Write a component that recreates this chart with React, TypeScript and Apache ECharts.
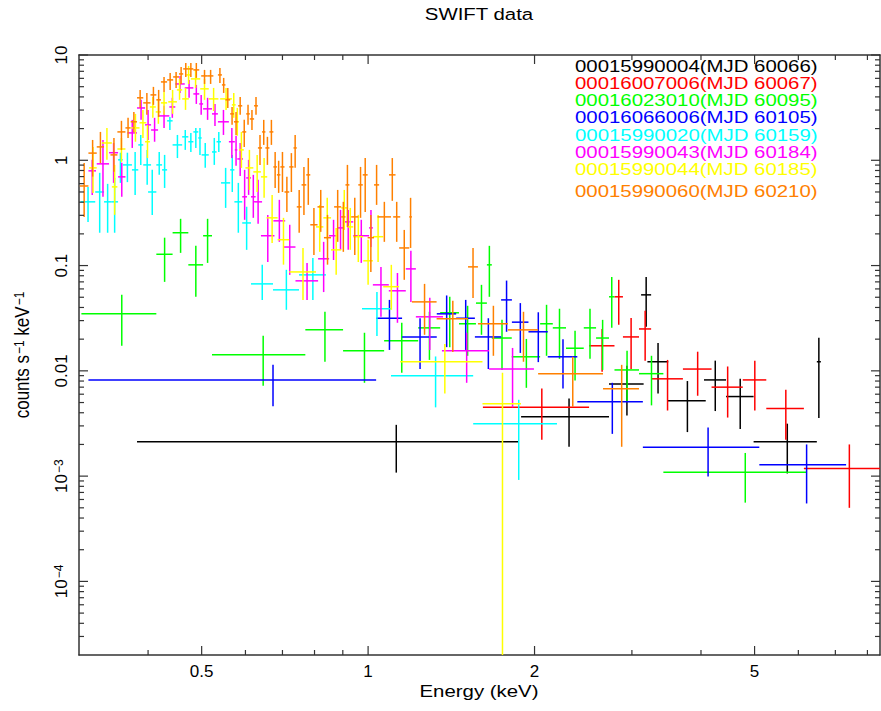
import React, { useEffect, useRef } from 'react';
import * as echarts from 'echarts';

// ---- axis ranges ----
const X_MIN = 0.3;
const X_MAX = 8.43;
const Y_MIN = 2e-5;
const Y_MAX = 10;

// ---- tick values / labels ----
const xMajorTicks = [0.5, 1, 2, 5];
const xMajorLabels = ['0.5', '1', '2', '5'];
const xMinorTicks = [0.4, 0.6, 0.7, 0.8, 0.9, 3, 4, 6, 7, 8];
const yMajorTicks = [1e-4, 1e-3, 0.01, 0.1, 1, 10];
const yMajorLabels = ['10{s|\u22124}', '10{s|\u22123}', '0.01', '0.1', '1', '10'];
const yMinorTicks = [
  3e-5, 4e-5, 5e-5, 6e-5, 7e-5, 8e-5, 9e-5,
  2e-4, 3e-4, 4e-4, 5e-4, 6e-4, 7e-4, 8e-4, 9e-4,
  0.002, 0.003, 0.004, 0.005, 0.006, 0.007, 0.008, 0.009,
  0.02, 0.03, 0.04, 0.05, 0.06, 0.07, 0.08, 0.09,
  0.2, 0.3, 0.4, 0.5, 0.6, 0.7, 0.8, 0.9,
  2, 3, 4, 5, 6, 7, 8, 9,
];

// ---- legend ----
const obsLabels = [
  '00015990004(MJD 60066)',
  '00016007006(MJD 60067)',
  '00016023010(MJD 60095)',
  '00016066006(MJD 60105)',
  '00015990020(MJD 60159)',
  '00015990043(MJD 60184)',
  '00015990044(MJD 60185)',
  '00015990060(MJD 60210)',
];
const obsColors = ['#000000', '#ff0000', '#00ff00', '#0000ff', '#00ffff', '#ff00ff', '#ffff00', '#ff8000'];

// ---- data: [eLow, eHigh, rate, rateLow, rateHigh] ----
const obs60066 = [
  [0.382, 1.867, 0.00212, 0.00108, 0.00307],
  [1.891, 2.727, 0.00366, 0.0019, 0.00545],
  [2.727, 3.15, 0.0075, 0.00376, 0.0112],
  [3.117, 3.25, 0.0527, 0.0263, 0.078],
  [3.2, 3.49, 0.0122, 0.0061, 0.0184],
  [3.48, 4.08, 0.0052, 0.00262, 0.008],
  [4.05, 4.44, 0.0082, 0.00415, 0.0125],
  [4.44, 4.98, 0.0057, 0.0028, 0.0084],
  [4.98, 6.48, 0.00212, 0.00106, 0.00315],
  [6.48, 6.59, 0.0122, 0.00356, 0.0206],
];
const obs60067 = [
  [1.613, 2.51, 0.0045, 0.00221, 0.0068],
  [2.51, 2.79, 0.0173, 0.0098, 0.025],
  [2.79, 2.89, 0.0505, 0.0274, 0.0732],
  [2.89, 3.09, 0.021, 0.0104, 0.0318],
  [3.09, 3.25, 0.025, 0.0125, 0.0373],
  [3.25, 3.71, 0.0084, 0.0042, 0.0127],
  [3.71, 4.18, 0.0104, 0.0058, 0.0152],
  [4.18, 4.76, 0.007, 0.0036, 0.011],
  [4.76, 5.25, 0.0082, 0.0042, 0.0125],
  [5.25, 6.14, 0.0044, 0.00221, 0.0066],
  [6.14, 8.7, 0.00118, 0.0005, 0.002],
];
const obs60095 = [
  [0.303, 0.414, 0.0348, 0.0173, 0.0527],
  [0.414, 0.443, 0.128, 0.07, 0.184],
  [0.443, 0.473, 0.205, 0.132, 0.278],
  [0.473, 0.503, 0.1016, 0.0505, 0.154],
  [0.503, 0.522, 0.192, 0.106, 0.278],
  [0.522, 0.77, 0.0142, 0.0072, 0.0215],
  [0.77, 0.901, 0.0245, 0.0122, 0.0364],
  [0.901, 1.069, 0.0155, 0.0077, 0.023],
  [1.069, 1.232, 0.0193, 0.0096, 0.0286],
  [1.232, 1.35, 0.0256, 0.0127, 0.0364],
  [1.35, 1.46, 0.0356, 0.0168, 0.0505],
  [1.46, 1.567, 0.028, 0.0139, 0.0415],
  [1.567, 1.64, 0.044, 0.022, 0.0656],
  [1.64, 1.674, 0.1016, 0.0505, 0.154],
  [1.674, 1.819, 0.0205, 0.0102, 0.0305],
  [1.819, 2.047, 0.0136, 0.0069, 0.0201],
  [2.047, 2.158, 0.028, 0.0139, 0.0424],
  [2.158, 2.28, 0.0256, 0.013, 0.0389],
  [2.28, 2.455, 0.0164, 0.0081, 0.024],
  [2.455, 2.584, 0.0256, 0.013, 0.0389],
  [2.584, 2.727, 0.0205, 0.0102, 0.0305],
  [2.727, 2.79, 0.0505, 0.0256, 0.078],
  [2.79, 3.09, 0.0102, 0.0051, 0.0155],
  [3.09, 3.42, 0.0094, 0.0047, 0.0139],
  [3.42, 6.2, 0.00109, 0.00056, 0.00166],
];
const obs60105 = [
  [0.312, 1.034, 0.0082, 0.0046, 0.0114],
  [1.034, 1.152, 0.0316, 0.0158, 0.0472],
  [1.152, 1.331, 0.021, 0.0104, 0.0316],
  [1.331, 1.443, 0.0348, 0.0168, 0.052],
  [1.443, 1.56, 0.0316, 0.0158, 0.0472],
  [1.56, 1.74, 0.021, 0.0104, 0.0316],
  [1.74, 1.82, 0.0472, 0.0235, 0.072],
  [1.82, 1.95, 0.029, 0.0148, 0.044],
  [1.95, 2.113, 0.0235, 0.0121, 0.036],
  [2.113, 2.39, 0.0136, 0.0068, 0.02],
  [2.39, 3.14, 0.0051, 0.00252, 0.0077],
  [3.14, 5.1, 0.00188, 0.00099, 0.0029],
  [5.1, 7.32, 0.00128, 0.00055, 0.002],
];
const obs60159 = [
  [0.302, 0.321, 0.403, 0.26, 0.559],
  [0.321, 0.333, 0.5, 0.205, 0.76],
  [0.333, 0.343, 0.403, 0.205, 0.597],
  [0.343, 0.353, 0.403, 0.205, 0.68],
  [0.353, 0.36, 1.01, 0.61, 1.18],
  [0.36, 0.374, 0.904, 0.62, 1.18],
  [0.374, 0.384, 0.811, 0.469, 1.2],
  [0.384, 0.392, 1.4, 0.904, 1.74],
  [0.392, 0.405, 0.904, 0.584, 1.255],
  [0.4, 0.414, 0.5, 0.303, 0.811],
  [0.414, 0.424, 0.904, 0.727, 1.2],
  [0.424, 0.433, 0.811, 0.546, 1.125],
  [0.433, 0.443, 2.37, 1.94, 2.58],
  [0.443, 0.461, 1.4, 1.05, 1.74],
  [0.461, 0.473, 1.67, 1.255, 1.94],
  [0.473, 0.483, 1.5, 1.2, 1.82],
  [0.483, 0.493, 1.86, 1.31, 2.03],
  [0.493, 0.5, 1.63, 1.125, 2.03],
  [0.5, 0.515, 1.125, 0.847, 1.46],
  [0.522, 0.532, 1.2, 0.904, 1.63],
  [0.532, 0.542, 1.5, 1.2, 1.86],
  [0.542, 0.563, 0.61, 0.353, 0.847],
  [0.563, 0.573, 0.811, 0.5, 1.125],
  [0.573, 0.592, 0.403, 0.205, 0.61],
  [0.592, 0.614, 0.254, 0.141, 0.362],
  [0.614, 0.673, 0.067, 0.0472, 0.1016],
  [0.673, 0.75, 0.0588, 0.038, 0.0911],
  [0.75, 0.839, 0.0816, 0.0472, 0.118],
  [0.975, 1.1, 0.0389, 0.0214, 0.056],
  [1.1, 1.549, 0.009, 0.0045, 0.0137],
  [1.549, 2.196, 0.00315, 0.00092, 0.00531],
];
const obs60184 = [
  [0.312, 0.322, 0.794, 0.469, 1.01],
  [0.323, 0.34, 0.925, 0.45, 1.56],
  [0.34, 0.353, 1.18, 0.61, 1.46],
  [0.353, 0.364, 0.696, 0.45, 0.945],
  [0.367, 0.382, 1.82, 1.31, 2.42],
  [0.382, 0.395, 3.14, 2.42, 3.75],
  [0.395, 0.405, 2.17, 1.56, 3.01],
  [0.405, 0.417, 1.94, 1.5, 2.53],
  [0.418, 0.437, 2.64, 2.03, 3.29],
  [0.437, 0.448, 3.21, 2.53, 3.92],
  [0.448, 0.466, 5.31, 4.36, 6.33],
  [0.466, 0.483, 4.87, 3.92, 5.8],
  [0.483, 0.495, 4.27, 3.43, 5.2],
  [0.495, 0.503, 3.43, 2.7, 4.18],
  [0.503, 0.522, 3.08, 2.42, 3.92],
  [0.522, 0.535, 2.76, 2.12, 3.43],
  [0.535, 0.56, 2.32, 1.74, 3.01],
  [0.56, 0.574, 1.5, 1.05, 2.03],
  [0.574, 0.58, 1.255, 0.885, 1.71],
  [0.58, 0.594, 1.03, 0.71, 1.46],
  [0.592, 0.604, 0.45, 0.272, 0.811],
  [0.602, 0.614, 0.68, 0.469, 1.01],
  [0.614, 0.626, 0.45, 0.284, 0.727],
  [0.622, 0.643, 0.403, 0.249, 0.652],
  [0.64, 0.677, 0.192, 0.108, 0.303],
  [0.674, 0.708, 0.266, 0.168, 0.421],
  [0.704, 0.739, 0.15, 0.0816, 0.244],
  [0.739, 0.812, 0.0716, 0.0472, 0.106],
  [0.812, 0.85, 0.116, 0.056, 0.168],
  [0.85, 0.882, 0.192, 0.113, 0.272],
  [0.882, 0.901, 0.228, 0.141, 0.338],
  [0.901, 0.94, 0.26, 0.141, 0.338],
  [0.94, 1.004, 0.192, 0.106, 0.272],
  [1.004, 1.02, 0.228, 0.15, 0.338],
  [1.02, 1.09, 0.0656, 0.0326, 0.097],
  [1.09, 1.17, 0.0576, 0.0286, 0.085],
  [1.17, 1.22, 0.093, 0.045, 0.138],
  [1.22, 1.366, 0.0326, 0.0158, 0.0494],
  [1.36, 1.655, 0.0155, 0.0077, 0.023],
  [1.655, 1.995, 0.0104, 0.0045, 0.0165],
];
const obs60185 = [
  [0.313, 0.323, 0.847, 0.49, 1.34],
  [0.33, 0.344, 1.46, 1.01, 2.03],
  [0.344, 0.352, 0.559, 0.303, 0.904],
  [0.352, 0.364, 1.28, 0.966, 1.63],
  [0.373, 0.386, 2.03, 1.5, 2.76],
  [0.386, 0.397, 2.27, 1.63, 3.01],
  [0.395, 0.403, 1.5, 1.05, 2.17],
  [0.403, 0.413, 3.21, 2.53, 4.0],
  [0.413, 0.422, 2.88, 2.22, 3.75],
  [0.422, 0.433, 3.51, 2.7, 4.46],
  [0.435, 0.451, 3.59, 2.76, 4.66],
  [0.451, 0.461, 4.66, 3.75, 5.93],
  [0.461, 0.474, 3.83, 3.01, 4.87],
  [0.469, 0.478, 6.47, 5.31, 7.87],
  [0.478, 0.497, 5.93, 4.87, 7.22],
  [0.497, 0.515, 4.77, 3.75, 5.93],
  [0.515, 0.536, 3.83, 2.94, 4.87],
  [0.54, 0.567, 3.83, 3.01, 4.87],
  [0.567, 0.576, 3.36, 2.53, 4.36],
  [0.576, 0.584, 2.32, 1.71, 3.14],
  [0.584, 0.596, 1.255, 0.847, 1.86],
  [0.6, 0.62, 0.847, 0.523, 1.255],
  [0.62, 0.64, 0.776, 0.5, 1.125],
  [0.64, 0.657, 0.696, 0.44, 1.05],
  [0.655, 0.686, 0.284, 0.164, 0.469],
  [0.686, 0.72, 0.176, 0.102, 0.284],
  [0.72, 0.805, 0.087, 0.0472, 0.147],
  [0.805, 0.83, 0.233, 0.135, 0.377],
  [0.83, 0.857, 0.284, 0.176, 0.44],
  [0.857, 0.894, 0.141, 0.0816, 0.228],
  [0.894, 0.917, 0.353, 0.218, 0.523],
  [0.917, 0.94, 0.233, 0.141, 0.353],
  [0.94, 0.98, 0.188, 0.108, 0.303],
  [0.98, 1.02, 0.111, 0.0656, 0.176],
  [1.02, 1.065, 0.188, 0.108, 0.303],
  [1.065, 1.138, 0.063, 0.038, 0.1016],
  [1.143, 1.61, 0.0122, 0.0061, 0.018],
  [1.61, 1.89, 0.00487, 1e-7, 0.0096],
];
const obs60210 = [
  [0.301, 0.312, 0.57, 0.29, 0.94],
  [0.312, 0.323, 1.17, 0.7, 1.56],
  [0.323, 0.333, 1.34, 0.94, 1.86],
  [0.342, 0.352, 1.125, 0.78, 1.63],
  [0.352, 0.364, 1.86, 1.255, 2.37],
  [0.364, 0.372, 2.03, 1.63, 2.53],
  [0.372, 0.382, 2.32, 1.85, 2.88],
  [0.382, 0.392, 3.92, 3.14, 4.66],
  [0.392, 0.404, 3.51, 2.7, 4.36],
  [0.404, 0.414, 4.18, 3.36, 4.98],
  [0.414, 0.422, 3.75, 2.58, 4.66],
  [0.422, 0.433, 5.55, 4.46, 6.19],
  [0.433, 0.444, 5.8, 4.66, 6.75],
  [0.444, 0.455, 6.19, 4.87, 6.91],
  [0.455, 0.463, 6.61, 5.31, 7.7],
  [0.463, 0.473, 7.38, 6.19, 8.4],
  [0.473, 0.483, 7.38, 6.19, 8.4],
  [0.483, 0.495, 7.22, 6.06, 8.4],
  [0.499, 0.513, 6.33, 5.31, 7.22],
  [0.513, 0.525, 6.33, 5.31, 7.22],
  [0.535, 0.544, 6.47, 5.43, 7.54],
  [0.544, 0.552, 5.2, 4.36, 6.06],
  [0.552, 0.563, 3.75, 3.14, 4.87],
  [0.563, 0.572, 2.76, 2.17, 3.21],
  [0.572, 0.582, 2.32, 1.74, 2.88],
  [0.582, 0.592, 3.29, 2.7, 4.0],
  [0.592, 0.602, 1.86, 1.34, 2.42],
  [0.602, 0.611, 2.76, 2.17, 3.36],
  [0.611, 0.622, 2.47, 1.94, 3.01],
  [0.622, 0.632, 3.29, 2.7, 4.0],
  [0.632, 0.643, 1.31, 0.904, 1.74],
  [0.643, 0.652, 1.86, 1.4, 2.42],
  [0.652, 0.663, 1.31, 0.904, 1.67],
  [0.663, 0.674, 1.86, 1.4, 2.42],
  [0.674, 0.684, 0.865, 0.546, 1.2],
  [0.684, 0.694, 0.727, 0.49, 0.99],
  [0.694, 0.706, 0.865, 0.5, 1.2],
  [0.706, 0.72, 0.5, 0.323, 0.696],
  [0.72, 0.733, 0.865, 0.5, 1.17],
  [0.733, 0.743, 1.31, 0.847, 1.74],
  [0.743, 0.758, 0.361, 0.205, 0.523],
  [0.758, 0.773, 0.584, 0.303, 0.865],
  [0.773, 0.786, 0.727, 0.377, 1.05],
  [0.786, 0.81, 0.244, 0.126, 0.353],
  [0.81, 0.832, 0.361, 0.209, 0.523],
  [0.832, 0.857, 0.184, 0.102, 0.303],
  [0.868, 0.894, 0.361, 0.168, 0.523],
  [0.894, 0.91, 0.29, 0.135, 0.403],
  [0.91, 0.925, 0.584, 0.232, 0.904],
  [0.932, 0.96, 0.29, 0.126, 0.44],
  [0.96, 0.978, 0.584, 0.284, 0.865],
  [0.978, 0.998, 0.727, 0.323, 1.05],
  [0.998, 1.025, 0.184, 0.087, 0.303],
  [1.025, 1.047, 0.584, 0.377, 0.904],
  [1.04, 1.1, 0.29, 0.168, 0.403],
  [1.091, 1.121, 0.727, 0.412, 1.05],
  [1.11, 1.143, 0.29, 0.168, 0.403],
  [1.138, 1.187, 0.147, 0.0732, 0.218],
  [1.187, 1.2, 0.29, 0.147, 0.44],
  [1.2, 1.33, 0.0452, 0.022, 0.067],
  [1.33, 1.516, 0.0312, 0.0151, 0.0462],
  [1.516, 1.58, 0.0972, 0.0493, 0.147],
  [1.58, 1.79, 0.028, 0.0139, 0.0415],
  [1.79, 2.03, 0.0245, 0.0122, 0.0364],
  [2.03, 2.66, 0.0094, 0.00456, 0.0136],
  [2.66, 3.09, 0.00676, 0.0019, 0.0114],
];

const allObs = [obs60066, obs60067, obs60095, obs60105, obs60159, obs60184, obs60185, obs60210];

const FONT = '"Liberation Sans", Arial, Helvetica, sans-serif';
const LINE_W = 1.5;
const STRETCH = 1.2;
const FRAME = '#333333';

function errorSeries(name: string, color: string, rows: number[][]) {
  return {
    type: 'custom',
    name,
    clip: true,
    silent: true,
    xAxisIndex: 0,
    yAxisIndex: 0,
    data: rows.map((r) => [(r[0] + r[1]) / 2, r[2], r[0], r[1], r[3], r[4]]),
    encode: { x: 0, y: 1 },
    renderItem: (_p: any, api: any) => {
      const xc = api.value(0);
      const yc = api.value(1);
      const a = api.coord([api.value(2), yc]);
      const b = api.coord([api.value(3), yc]);
      const c = api.coord([xc, api.value(5)]);
      const d = api.coord([xc, api.value(4)]);
      const st = { stroke: color, lineWidth: LINE_W, fill: 'none' };
      return {
        type: 'group',
        children: [
          { type: 'line', shape: { x1: a[0], y1: a[1], x2: b[0], y2: b[1] }, style: st },
          { type: 'line', shape: { x1: c[0], y1: c[1], x2: d[0], y2: d[1] }, style: st },
        ],
      };
    },
  };
}

const tickStyle = { stroke: FRAME, lineWidth: 1.2 };

function xTickSeries() {
  const data = [
    ...xMajorTicks.map((v) => [v, Y_MIN, 1]),
    ...xMinorTicks.map((v) => [v, Y_MIN, 0]),
  ];
  return {
    type: 'custom',
    silent: true,
    clip: false,
    z: 10,
    xAxisIndex: 0,
    yAxisIndex: 0,
    data,
    encode: { x: 0, y: 1 },
    renderItem: (_p: any, api: any) => {
      const v = api.value(0);
      const len = api.value(2) === 1 ? 9 : 5;
      const b = api.coord([v, Y_MIN]);
      const t = api.coord([v, Y_MAX]);
      return {
        type: 'group',
        children: [
          { type: 'line', shape: { x1: b[0], y1: b[1], x2: b[0], y2: b[1] - len }, style: tickStyle },
          { type: 'line', shape: { x1: t[0], y1: t[1], x2: t[0], y2: t[1] + len }, style: tickStyle },
        ],
      };
    },
  };
}

function yTickSeries() {
  const data = [
    ...yMajorTicks.map((v) => [X_MIN, v, 1]),
    ...yMinorTicks.map((v) => [X_MIN, v, 0]),
  ];
  return {
    type: 'custom',
    silent: true,
    clip: false,
    z: 10,
    xAxisIndex: 0,
    yAxisIndex: 0,
    data,
    encode: { x: 0, y: 1 },
    renderItem: (_p: any, api: any) => {
      const v = api.value(1);
      const len = api.value(2) === 1 ? 9 : 5;
      const l = api.coord([X_MIN, v]);
      const r = api.coord([X_MAX, v]);
      return {
        type: 'group',
        children: [
          { type: 'line', shape: { x1: l[0], y1: l[1], x2: l[0] + len, y2: l[1] }, style: tickStyle },
          { type: 'line', shape: { x1: r[0], y1: r[1], x2: r[0] - len, y2: r[1] }, style: tickStyle },
        ],
      };
    },
  };
}

function xLabelSeries() {
  return {
    type: 'custom',
    silent: true,
    clip: false,
    z: 10,
    xAxisIndex: 0,
    yAxisIndex: 0,
    data: xMajorTicks.map((v) => [v, Y_MIN]),
    encode: { x: 0, y: 1 },
    renderItem: (p: any, api: any) => {
      const pt = api.coord([api.value(0), Y_MIN]);
      return {
        type: 'text',
        x: pt[0],
        y: pt[1] + 8,
        style: {
          text: xMajorLabels[p.dataIndex],
          fill: '#000',
          fontSize: 17,
          fontFamily: FONT,
          align: 'center',
          verticalAlign: 'top',
          textAlign: 'center',
          textVerticalAlign: 'top',
        },
      };
    },
  };
}

const supRich = { s: { fontSize: 12, fontFamily: FONT, fill: '#000', verticalAlign: 'top', padding: [0, 0, 0, 1] } };

function yLabelSeries() {
  return {
    type: 'custom',
    silent: true,
    clip: false,
    z: 10,
    xAxisIndex: 0,
    yAxisIndex: 0,
    data: yMajorTicks.map((v) => [X_MIN, v]),
    encode: { x: 0, y: 1 },
    renderItem: (p: any, api: any) => {
      const pt = api.coord([X_MIN, api.value(1)]);
      return {
        type: 'text',
        x: pt[0] - 9,
        y: pt[1],
        rotation: Math.PI / 2,
        style: {
          text: yMajorLabels[p.dataIndex],
          rich: supRich,
          fill: '#000',
          fontSize: 17,
          fontFamily: FONT,
          align: 'center',
          verticalAlign: 'bottom',
          textAlign: 'center',
          textVerticalAlign: 'bottom',
        },
      };
    },
  };
}

const axisBase = {
  type: 'log',
  logBase: 10,
  axisTick: { show: false },
  axisLabel: { show: false },
  splitLine: { show: false },
  minorTick: { show: false },
  minorSplitLine: { show: false },
};
const lineStyle = { color: FRAME, width: 1.5 };

function textEl(text: string, x: number, y: number, color: string, extra: any = {}) {
  return {
    type: 'text',
    x,
    y,
    scaleX: extra.scaleX ?? STRETCH,
    scaleY: extra.scaleY ?? 1,
    rotation: extra.rotation ?? 0,
    z: 100,
    style: {
      text,
      rich: extra.rich,
      fill: color,
      fontSize: extra.fontSize ?? 17,
      fontFamily: FONT,
      align: extra.align ?? 'left',
      verticalAlign: 'middle',
      textAlign: extra.align ?? 'left',
      textVerticalAlign: 'middle',
    },
  };
}

const legendYs = [66.5, 83, 100, 117.5, 135, 152.5, 169, 191];

export default function App() {
  const ref = useRef<HTMLDivElement>(null);
  useEffect(() => {
    if (!ref.current) return;
    const chart = echarts.init(ref.current, undefined, { renderer: 'svg' });
    const option: any = {
      animation: false,
      backgroundColor: '#ffffff',
      grid: { left: 79, top: 55, width: 801, height: 600, containLabel: false, outerBoundsMode: 'none' },
      xAxis: [
        { ...axisBase, min: X_MIN, max: X_MAX, position: 'bottom', axisLine: { show: true, onZero: false, lineStyle } },
        { ...axisBase, min: X_MIN, max: X_MAX, position: 'top', axisLine: { show: true, onZero: false, lineStyle } },
      ],
      yAxis: [
        { ...axisBase, min: Y_MIN, max: Y_MAX, position: 'left', axisLine: { show: true, onZero: false, lineStyle } },
        { ...axisBase, min: Y_MIN, max: Y_MAX, position: 'right', axisLine: { show: true, onZero: false, lineStyle } },
      ],
      series: [
        ...allObs.map((rows, i) => errorSeries(obsLabels[i], obsColors[i], rows)),
        xTickSeries(),
        yTickSeries(),
        xLabelSeries(),
        yLabelSeries(),
      ],
      graphic: [
        textEl('SWIFT data', 479, 14, '#000', { align: 'center' }),
        textEl('Energy (keV)', 479, 691, '#000', { align: 'center' }),
        textEl('counts s{s|\u22121} keV{s|\u22121}', 22, 355, '#000', {
          align: 'center',
          rotation: Math.PI / 2,
          scaleX: 1,
          scaleY: STRETCH,
          rich: supRich,
        }),
        ...obsLabels.map((t, i) => textEl(t, 575, legendYs[i], obsColors[i])),
      ],
    };
    chart.setOption(option);
    return () => chart.dispose();
  }, []);
  return (
    <div
      ref={ref}
      style={{ position: 'fixed', left: 0, top: 0, width: 881, height: 711, background: '#fff' }}
    />
  );
}
